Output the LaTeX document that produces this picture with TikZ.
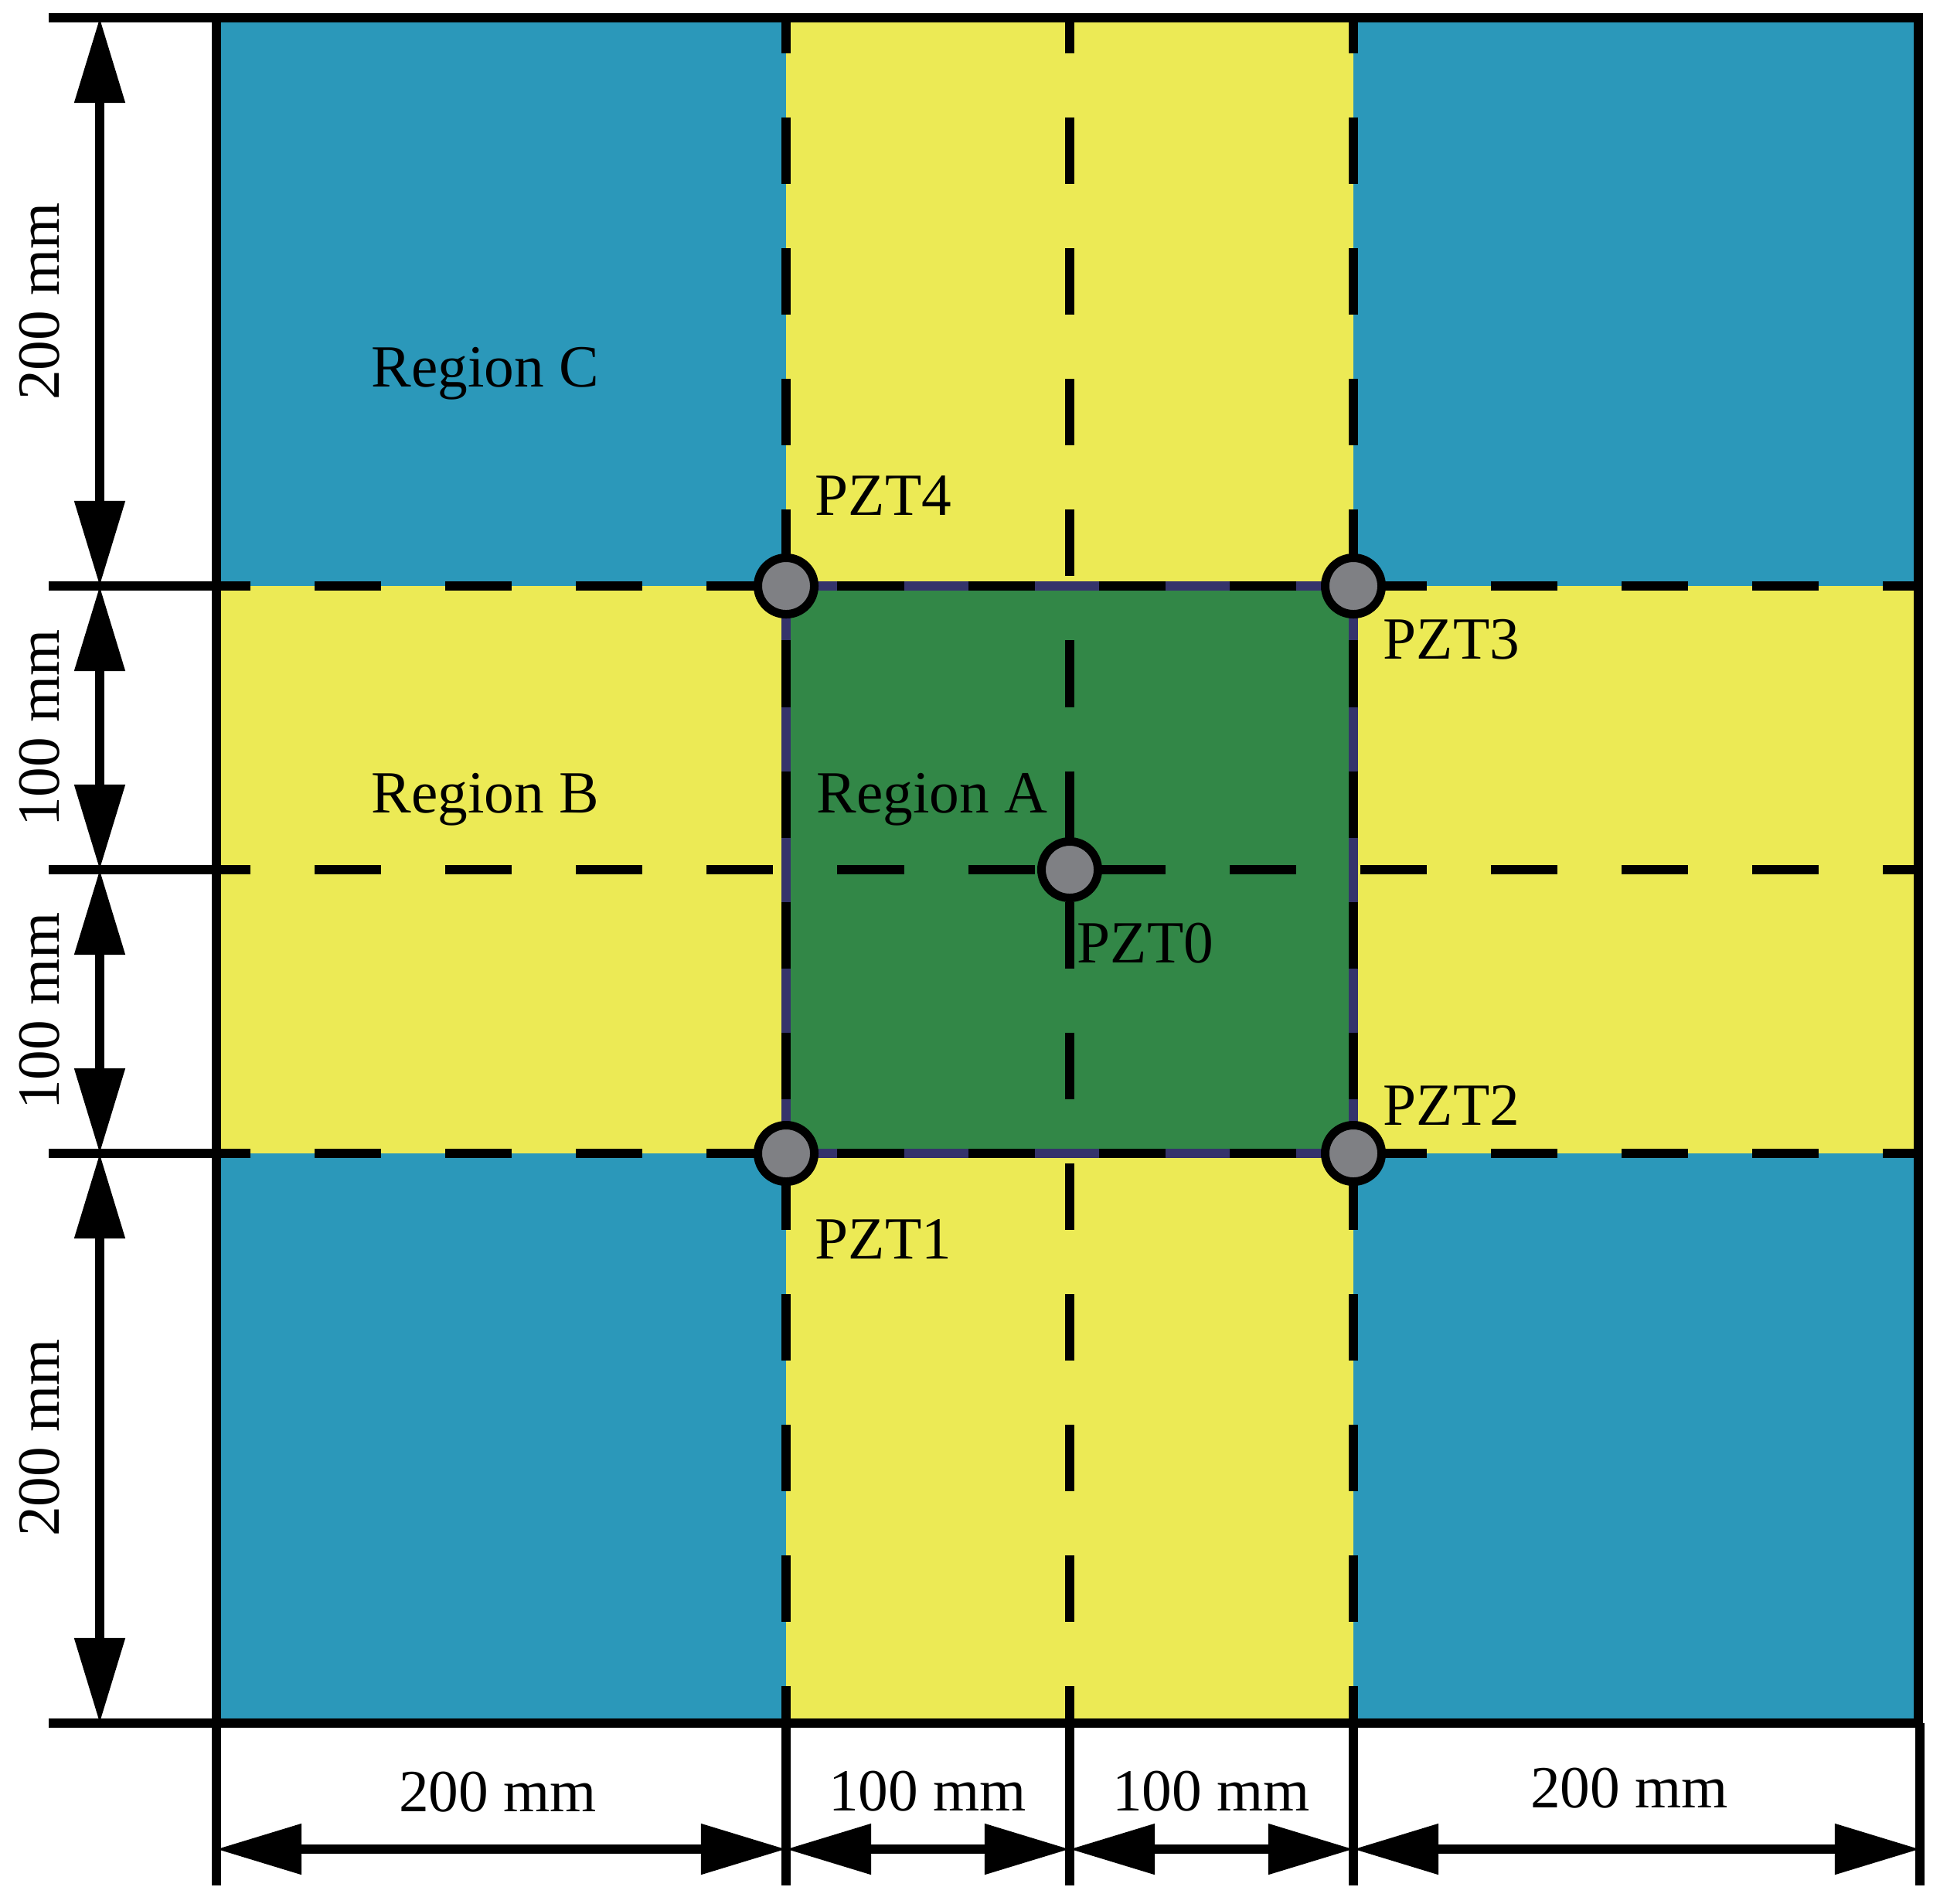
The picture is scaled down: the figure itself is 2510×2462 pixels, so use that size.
\documentclass[tikz,border=0pt]{standalone}
\usepackage{fontspec}
\setmainfont{Liberation Serif}
\usetikzlibrary{arrows.meta}
\definecolor{plblue}{HTML}{2B98BA}
\definecolor{plyellow}{HTML}{ECEA55}
\definecolor{plgreen}{HTML}{328747}
\definecolor{plgray}{HTML}{7F8084}
\definecolor{plnavy}{HTML}{35336B}
\begin{document}
\begin{tikzpicture}[x=0.01cm,y=-0.01cm,
  lw/.style={line width=0.115cm},
  gridline/.style={line width=0.12cm, dash pattern=on 0.86cm off 0.83cm},
  dimarrow/.style={lw, {Triangle[length=1.1cm,width=0.63cm]}-{Triangle[length=1.1cm,width=0.63cm]}},
  pzt/.style={circle, draw=black, line width=0.11cm, fill=plgray, minimum size=0.73cm, inner sep=0pt},
  lbl/.style={inner sep=0pt, font=\fontsize{22pt}{26pt}\selectfont}
]
\useasboundingbox (0,0) rectangle (2510,2462);

% grid coordinates
\coordinate (a00) at (280,23);   \coordinate (a40) at (2482,23);
\coordinate (a04) at (280,2229); \coordinate (a44) at (2482,2229);

% plate regions
\fill[plyellow] (a00) rectangle (a44);
\fill[plblue] (280,23) rectangle (1017,758);
\fill[plblue] (1751,23) rectangle (2482,758);
\fill[plblue] (280,1492) rectangle (1017,2229);
\fill[plblue] (1751,1492) rectangle (2482,2229);
\filldraw[fill=plgreen, draw=plnavy, line width=0.12cm] (1017,758) rectangle (1751,1492);

% dashed grid lines
\draw[gridline, dash phase=0.40cm] (1017,23) -- (1017,2229);
\draw[gridline, dash phase=0.40cm] (1384,23) -- (1384,2229);
\draw[gridline, dash phase=0.40cm] (1751,23) -- (1751,2229);
\draw[gridline, dash phase=0.42cm] (280,758) -- (2482,758);
\draw[gridline, dash phase=0.42cm] (280,1125) -- (2482,1125);
\draw[gridline, dash phase=0.42cm] (280,1492) -- (2482,1492);

% plate outline
\draw[lw] (a00) rectangle (a44);

% left extension lines
\coordinate (l0) at (63,23);   \coordinate (r0) at (280,23);
\coordinate (l1) at (63,758);  \coordinate (r1) at (280,758);
\coordinate (l2) at (63,1125); \coordinate (r2) at (280,1125);
\coordinate (l3) at (63,1492); \coordinate (r3) at (280,1492);
\coordinate (l4) at (63,2229); \coordinate (r4) at (280,2229);
\foreach \i in {0,...,4} {\draw[lw] (l\i) -- (r\i);}

% bottom extension lines
\coordinate (t0) at (280,2229);  \coordinate (b0) at (280,2439);
\coordinate (t1) at (1017,2229); \coordinate (b1) at (1017,2439);
\coordinate (t2) at (1384,2229); \coordinate (b2) at (1384,2439);
\coordinate (t3) at (1751,2229); \coordinate (b3) at (1751,2439);
\coordinate (t4) at (2484,2229); \coordinate (b4) at (2484,2439);
\foreach \i in {0,...,4} {\draw[lw] (t\i) -- (b\i);}

% left dimension arrows
\coordinate (v0) at (129,23);
\coordinate (v1) at (129,758);
\coordinate (v2) at (129,1125);
\coordinate (v3) at (129,1492);
\coordinate (v4) at (129,2229);
\draw[dimarrow] (v0) -- (v1);
\draw[dimarrow] (v1) -- (v2);
\draw[dimarrow] (v2) -- (v3);
\draw[dimarrow] (v3) -- (v4);

% bottom dimension arrows
\coordinate (h0) at (280,2392);
\coordinate (h1) at (1017,2392);
\coordinate (h2) at (1384,2392);
\coordinate (h3) at (1751,2392);
\coordinate (h4) at (2484,2392);
\draw[dimarrow] (h0) -- (h1);
\draw[dimarrow] (h1) -- (h2);
\draw[dimarrow] (h2) -- (h3);
\draw[dimarrow] (h3) -- (h4);

% dimension labels
\node[lbl, rotate=90] (dl1) at (51,390) {200 mm};
\node[lbl, rotate=90] (dl2) at (51,942) {100 mm};
\node[lbl, rotate=90] (dl3) at (51,1308) {100 mm};
\node[lbl, rotate=90] (dl4) at (51,1860) {200 mm};
\node[lbl, anchor=base] (db1) at (644,2343) {200 mm};
\node[lbl, anchor=base] (db2) at (1200,2342) {100 mm};
\node[lbl, anchor=base] (db3) at (1567,2342) {100 mm};
\node[lbl, anchor=base] (db4) at (2108,2338) {200 mm};

% region labels
\node[lbl, anchor=base west] (rc) at (480,500) {Region C};
\node[lbl, anchor=base west] (rb) at (480,1051) {Region B};
\node[lbl, anchor=base west] (ra) at (1056,1051) {Region A};

% sensors
\node[pzt] (pzt0) at (1384,1125) {};
\node[pzt] (pzt1) at (1017,1492) {};
\node[pzt] (pzt2) at (1751,1492) {};
\node[pzt] (pzt3) at (1751,758) {};
\node[pzt] (pzt4) at (1017,758) {};

\node[lbl, anchor=base west] (lp0) at (1393,1245) {PZT0};
\node[lbl, anchor=base west] (lp1) at (1054,1628) {PZT1};
\node[lbl, anchor=base west] (lp2) at (1789,1455) {PZT2};
\node[lbl, anchor=base west] (lp3) at (1789,852) {PZT3};
\node[lbl, anchor=base west] (lp4) at (1054,666) {PZT4};
\end{tikzpicture}
\end{document}
